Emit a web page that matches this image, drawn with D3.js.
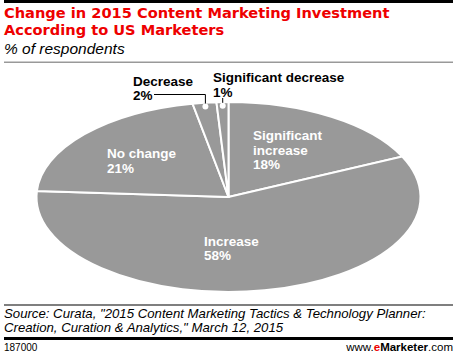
<!DOCTYPE html>
<html><head><meta charset="utf-8">
<script src="https://cdn.jsdelivr.net/npm/d3@7"></script>
<style>body{margin:0;background:#fff}svg{display:block}text{font-family:"Liberation Sans",Arial,sans-serif}</style>
</head><body>
<script>
const categories = ["Significant increase", "Increase", "No change", "Decrease", "Significant decrease"];
const values = [18, 58, 21, 2, 1];
const labelLines = [["Significant", "increase", "18%"], ["Increase", "58%"], ["No change", "21%"], ["Decrease", "2%"], ["Significant decrease", "1%"]];

const W = 453, H = 357;
const svg = d3.select("body").append("svg").attr("width", W).attr("height", H);

// header
svg.append("rect").attr("x", 4).attr("y", 0).attr("width", W - 4).attr("height", 3).attr("fill", "#000");
const title = svg.append("text").attr("fill", "#ee0000").attr("font-weight", "bold").attr("font-size", 14.6)
  .style("font-family", "'DejaVu Sans', sans-serif");
title.append("tspan").attr("x", 4).attr("y", 18).text("Change in 2015 Content Marketing Investment");
title.append("tspan").attr("x", 4).attr("y", 35).text("According to US Marketers");
svg.append("text").attr("x", 4).attr("y", 54).attr("font-size", 15.5).attr("font-style", "italic").attr("fill", "#000").text("% of respondents");
svg.append("rect").attr("x", 4).attr("y", 61.5).attr("width", W - 4).attr("height", 1.5).attr("fill", "#999");

// pie
const cx = 228.5, cy = 197, rx = 192, ry = 95, R = 100;
const pie = d3.pie().sort(null).value(d => d)(values);
const arc = d3.arc().innerRadius(0).outerRadius(R);
const g = svg.append("g").attr("transform", `translate(${cx},${cy}) scale(${rx / R},${ry / R})`);
g.selectAll("path").data(pie).join("path")
  .attr("d", arc).attr("fill", "#999999")
  .attr("stroke", "#fff").attr("stroke-width", 2).attr("vector-effect", "non-scaling-stroke");

// inside labels
const inside = [
  {i: 0, x: 253, y: 140, lh: 14.5},
  {i: 1, x: 204, y: 245.5, lh: 14.5},
  {i: 2, x: 107, y: 158, lh: 14.5}
];
inside.forEach(o => {
  const t = svg.append("text").attr("fill", "#fff").attr("font-weight", "bold").attr("font-size", 13.5);
  labelLines[o.i].forEach((s, k) => t.append("tspan").attr("x", o.x).attr("y", o.y + k * o.lh).text(s));
});

// outside labels with leaders
function ptAt(i, f) {
  const a = (pie[i].startAngle + pie[i].endAngle) / 2;
  return [cx + Math.sin(a) * rx * f, cy - Math.cos(a) * ry * f];
}
const outside = [
  {i: 3, x: 133, y: 86, lh: 14},
  {i: 4, x: 213, y: 82, lh: 14.5}
];
outside.forEach(o => {
  const t = svg.append("text").attr("fill", "#000").attr("font-weight", "bold").attr("font-size", 13.5);
  labelLines[o.i].forEach((s, k) => t.append("tspan").attr("x", o.x).attr("y", o.y + k * o.lh).text(s));
});
const pD = ptAt(3, 0.96), pS = ptAt(4, 0.96);
svg.append("path").attr("d", `M154,94.5H${pD[0]}V${pD[1]}`).attr("fill", "none").attr("stroke", "#000").attr("stroke-width", 1);
svg.append("path").attr("d", `M${pS[0]},98V${pS[1]}`).attr("fill", "none").attr("stroke", "#000").attr("stroke-width", 1);
[pD, pS].forEach(p => svg.append("circle").attr("cx", p[0]).attr("cy", p[1]).attr("r", 3).attr("fill", "#fff"));

// footer
svg.append("rect").attr("x", 4).attr("y", 304.5).attr("width", W - 4).attr("height", 1).attr("fill", "#000");
const src = svg.append("text").attr("font-size", 13.2).attr("font-style", "italic").attr("fill", "#000");
src.append("tspan").attr("x", 4).attr("y", 318).text("Source: Curata, \"2015 Content Marketing Tactics & Technology Planner:");
src.append("tspan").attr("x", 4).attr("y", 332).text("Creation, Curation & Analytics,\" March 12, 2015");
svg.append("rect").attr("x", 4).attr("y", 337).attr("width", W - 4).attr("height", 3).attr("fill", "#000");
svg.append("text").attr("x", 4).attr("y", 351).attr("font-size", 10).attr("fill", "#000").text("187000");
const em = svg.append("text").attr("x", 453).attr("y", 351).attr("font-size", 11.5).attr("text-anchor", "end").attr("fill", "#000");
em.append("tspan").text("www.");
em.append("tspan").attr("fill", "#ee0000").attr("font-weight", "bold").text("e");
em.append("tspan").attr("font-weight", "bold").text("Marketer");
em.append("tspan").text(".com");
</script>
</body></html>
